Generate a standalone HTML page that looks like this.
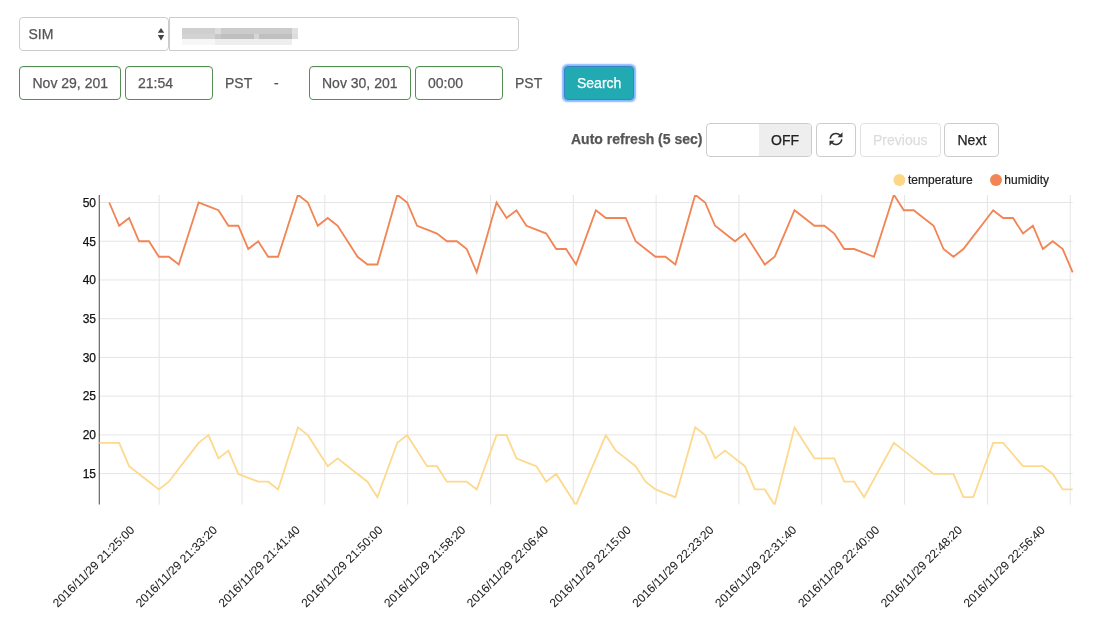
<!DOCTYPE html>
<html><head><meta charset="utf-8">
<style>
html,body{margin:0;padding:0;background:#fff;width:1103px;height:635px;overflow:hidden;position:relative}
.wrap{position:absolute;left:0;top:0;width:1103px;height:635px;will-change:transform}
body{font-family:"Liberation Sans",sans-serif;font-size:14px;color:#555}
.box{position:absolute;box-sizing:border-box;border:1px solid #ccc;border-radius:4px;background:#fff}
.t{position:absolute;white-space:nowrap;line-height:1;-webkit-text-stroke:0.25px currentColor}
.ok{border-color:#568d57;box-shadow:inset 0 1px 1px rgba(0,0,0,.075)}
svg text{font-family:"Liberation Sans",sans-serif}
.yl{font-size:12px;fill:#111;stroke:#111;stroke-width:0.25px}
.xl{font-size:12px;fill:#222;stroke:#222;stroke-width:0.05px}
.lg{font-size:12px;fill:#222;stroke:#222;stroke-width:0.2px}
</style></head><body><div class="wrap">
<div class="box" style="left:19px;top:17px;width:150px;height:34px;border-radius:4px"></div>
<div class="t" style="left:28.5px;top:27px">SIM</div>
<svg width="8" height="13" style="position:absolute;left:157px;top:28px" viewBox="0 0 8 13" overflow="visible"><path d="M4 -0.1 L7.2 4.8 L0.8 4.8 Z M0.8 6.9 L7.2 6.9 L4 12.5 Z" fill="#444"/></svg>
<div class="box" style="left:169px;top:17px;width:350px;height:34px;border-radius:0 4px 4px 0"></div>
<div style="position:absolute;left:182px;top:28px;width:116px;height:17px;filter:blur(0.6px)">
 <div style="position:absolute;left:0;top:0;width:33px;height:5.6px;background:#cfcfcf"></div>
 <div style="position:absolute;left:33px;top:0;width:6px;height:5.6px;background:#dcdcdc"></div>
 <div style="position:absolute;left:39px;top:0;width:71px;height:5.6px;background:#cbcbcb"></div>
 <div style="position:absolute;left:110px;top:0;width:6px;height:5.6px;background:#e0e0e0"></div>
 <div style="position:absolute;left:0;top:5.6px;width:33px;height:5.5px;background:#d3d3d3"></div>
 <div style="position:absolute;left:33px;top:5.6px;width:6px;height:5.5px;background:#c6c6c6"></div>
 <div style="position:absolute;left:39px;top:5.6px;width:33px;height:5.5px;background:#bfbfbf"></div>
 <div style="position:absolute;left:72px;top:5.6px;width:5px;height:5.5px;background:#d6d6d6"></div>
 <div style="position:absolute;left:77px;top:5.6px;width:33px;height:5.5px;background:#c0c0c0"></div>
 <div style="position:absolute;left:110px;top:5.6px;width:6px;height:5.5px;background:#dddddd"></div>
 <div style="position:absolute;left:0;top:11.1px;width:33px;height:5.5px;background:#f7f7f7"></div>
 <div style="position:absolute;left:33px;top:11.1px;width:77px;height:5.5px;background:#eeeeee"></div>
</div>

<div class="box ok" style="left:19px;top:66px;width:102px;height:34px"></div>
<div class="t" style="left:32.5px;top:76px">Nov 29, 201</div>
<div class="box ok" style="left:125px;top:66px;width:88px;height:34px"></div>
<div class="t" style="left:138px;top:76px">21:54</div>
<div class="t" style="left:225px;top:76px">PST</div>
<div class="t" style="left:274px;top:76px">-</div>
<div class="box ok" style="left:309px;top:66px;width:102px;height:34px"></div>
<div class="t" style="left:322px;top:76px">Nov 30, 201</div>
<div class="box ok" style="left:415px;top:66px;width:88px;height:34px"></div>
<div class="t" style="left:428px;top:76px">00:00</div>
<div class="t" style="left:515px;top:76px">PST</div>
<div class="box" style="left:564px;top:66px;width:70px;height:34px;background:#22aab2;border-color:#3a82c6;box-shadow:0 0 1.5px 1.5px rgba(110,170,255,.85)"></div>
<div class="t" style="left:577px;top:76px;color:#fff">Search</div>

<div class="t" style="left:571px;top:132px;font-weight:bold">Auto refresh (5 sec)</div>
<div class="box" style="left:706px;top:123px;width:106px;height:34px;overflow:hidden"><div style="position:absolute;left:52px;top:0;right:0;bottom:0;background:#eee"></div></div>
<div class="t" style="left:771px;top:133px;color:#222">OFF</div>
<div class="box" style="left:816px;top:123px;width:40px;height:34px"></div>
<svg width="14" height="14" viewBox="0 0 14 14" style="position:absolute;left:829px;top:132px"><g fill="none" stroke="#333" stroke-width="1.55"><path d="M1.3 6.7 A5.7 5.7 0 0 1 11.2 3.4"/><path d="M12.7 7.3 A5.7 5.7 0 0 1 2.8 10.6"/></g><path fill="#333" d="M13.5 0.3 L13.5 5.3 L8.5 5.3 Z M0.5 13.7 L0.5 8.7 L5.5 8.7 Z"/></svg>
<div class="box" style="left:860px;top:123px;width:81px;height:34px;border-color:#e2e2e2"></div>
<div class="t" style="left:873px;top:133px;color:#ddd">Previous</div>
<div class="box" style="left:944px;top:123px;width:55px;height:34px"></div>
<div class="t" style="left:957.5px;top:133px;color:#222">Next</div>

<svg width="1103" height="635" style="position:absolute;left:0;top:0" viewBox="0 0 1103 635">
<line x1="100" y1="202.50" x2="1072.6" y2="202.50" stroke="#e5e5e5" stroke-width="1"/>
<line x1="100" y1="241.23" x2="1072.6" y2="241.23" stroke="#e5e5e5" stroke-width="1"/>
<line x1="100" y1="279.96" x2="1072.6" y2="279.96" stroke="#e5e5e5" stroke-width="1"/>
<line x1="100" y1="318.69" x2="1072.6" y2="318.69" stroke="#e5e5e5" stroke-width="1"/>
<line x1="100" y1="357.42" x2="1072.6" y2="357.42" stroke="#e5e5e5" stroke-width="1"/>
<line x1="100" y1="396.15" x2="1072.6" y2="396.15" stroke="#e5e5e5" stroke-width="1"/>
<line x1="100" y1="434.88" x2="1072.6" y2="434.88" stroke="#e5e5e5" stroke-width="1"/>
<line x1="100" y1="473.61" x2="1072.6" y2="473.61" stroke="#e5e5e5" stroke-width="1"/>
<line x1="159.20" y1="195" x2="159.20" y2="504.6" stroke="#e5e5e5" stroke-width="1"/>
<line x1="242.02" y1="195" x2="242.02" y2="504.6" stroke="#e5e5e5" stroke-width="1"/>
<line x1="324.84" y1="195" x2="324.84" y2="504.6" stroke="#e5e5e5" stroke-width="1"/>
<line x1="407.66" y1="195" x2="407.66" y2="504.6" stroke="#e5e5e5" stroke-width="1"/>
<line x1="490.48" y1="195" x2="490.48" y2="504.6" stroke="#e5e5e5" stroke-width="1"/>
<line x1="573.30" y1="195" x2="573.30" y2="504.6" stroke="#e5e5e5" stroke-width="1"/>
<line x1="656.12" y1="195" x2="656.12" y2="504.6" stroke="#e5e5e5" stroke-width="1"/>
<line x1="738.94" y1="195" x2="738.94" y2="504.6" stroke="#e5e5e5" stroke-width="1"/>
<line x1="821.76" y1="195" x2="821.76" y2="504.6" stroke="#e5e5e5" stroke-width="1"/>
<line x1="904.58" y1="195" x2="904.58" y2="504.6" stroke="#e5e5e5" stroke-width="1"/>
<line x1="987.40" y1="195" x2="987.40" y2="504.6" stroke="#e5e5e5" stroke-width="1"/>
<line x1="1070.22" y1="195" x2="1070.22" y2="504.6" stroke="#e5e5e5" stroke-width="1"/>
<line x1="99.3" y1="195" x2="99.3" y2="504.6" stroke="#666" stroke-width="1.2"/>
<text x="96" y="206.80" text-anchor="end" class="yl">50</text>
<text x="96" y="245.53" text-anchor="end" class="yl">45</text>
<text x="96" y="284.26" text-anchor="end" class="yl">40</text>
<text x="96" y="322.99" text-anchor="end" class="yl">35</text>
<text x="96" y="361.72" text-anchor="end" class="yl">30</text>
<text x="96" y="400.45" text-anchor="end" class="yl">25</text>
<text x="96" y="439.18" text-anchor="end" class="yl">20</text>
<text x="96" y="477.91" text-anchor="end" class="yl">15</text>
<text transform="translate(135.10,530.70) rotate(-45)" text-anchor="end" class="xl">2016/11/29 21:25:00</text>
<text transform="translate(217.88,530.70) rotate(-45)" text-anchor="end" class="xl">2016/11/29 21:33:20</text>
<text transform="translate(300.66,530.70) rotate(-45)" text-anchor="end" class="xl">2016/11/29 21:41:40</text>
<text transform="translate(383.44,530.70) rotate(-45)" text-anchor="end" class="xl">2016/11/29 21:50:00</text>
<text transform="translate(466.22,530.70) rotate(-45)" text-anchor="end" class="xl">2016/11/29 21:58:20</text>
<text transform="translate(549.00,530.70) rotate(-45)" text-anchor="end" class="xl">2016/11/29 22:06:40</text>
<text transform="translate(631.78,530.70) rotate(-45)" text-anchor="end" class="xl">2016/11/29 22:15:00</text>
<text transform="translate(714.56,530.70) rotate(-45)" text-anchor="end" class="xl">2016/11/29 22:23:20</text>
<text transform="translate(797.34,530.70) rotate(-45)" text-anchor="end" class="xl">2016/11/29 22:31:40</text>
<text transform="translate(880.12,530.70) rotate(-45)" text-anchor="end" class="xl">2016/11/29 22:40:00</text>
<text transform="translate(962.90,530.70) rotate(-45)" text-anchor="end" class="xl">2016/11/29 22:48:20</text>
<text transform="translate(1045.68,530.70) rotate(-45)" text-anchor="end" class="xl">2016/11/29 22:56:40</text>
<defs><clipPath id="ca"><rect x="90" y="195" width="990" height="309.7"/></clipPath></defs><g clip-path="url(#ca)">
<path d="M99.30,442.90 L109.23,442.90 L119.16,442.90 L129.10,466.17 L139.03,473.93 L148.96,481.68 L158.89,489.44 L168.82,481.68 L178.76,468.73 L188.69,455.86 L198.62,442.90 L208.55,435.15 L218.48,458.41 L228.42,450.66 L238.35,473.93 L248.28,477.80 L258.21,481.68 L268.14,481.68 L278.08,489.44 L288.01,458.41 L297.94,427.39 L307.87,435.15 L317.80,450.66 L327.74,466.17 L337.67,458.41 L347.60,466.17 L357.53,473.93 L367.46,481.68 L377.40,497.19 L387.33,470.05 L397.26,442.90 L407.19,435.15 L417.12,450.66 L427.06,466.17 L436.99,466.17 L446.92,481.68 L456.85,481.68 L466.78,481.68 L476.72,489.44 L486.65,462.29 L496.58,435.15 L506.51,435.15 L516.44,458.41 L526.38,462.29 L536.31,466.17 L546.24,481.68 L556.17,473.93 L566.10,489.44 L576.04,504.94 L585.97,481.68 L595.90,458.41 L605.83,435.15 L615.76,450.66 L625.70,458.41 L635.63,466.17 L645.56,481.68 L655.49,489.44 L665.42,493.31 L675.36,497.19 L685.29,462.29 L695.22,427.39 L705.15,435.15 L715.08,458.41 L725.02,450.66 L734.95,458.41 L744.88,466.17 L754.81,489.44 L764.74,489.44 L774.68,504.94 L784.61,466.17 L794.54,427.39 L804.47,442.90 L814.40,458.41 L824.34,458.41 L834.27,458.41 L844.20,481.68 L854.13,481.68 L864.06,497.19 L874.00,479.12 L883.93,460.97 L893.86,442.90 L903.79,450.66 L913.72,458.41 L923.66,466.17 L933.59,473.93 L943.52,473.93 L953.45,473.93 L963.38,497.19 L973.32,497.19 L983.25,470.05 L993.18,442.90 L1003.11,442.90 L1013.04,454.54 L1022.98,466.17 L1032.91,466.17 L1042.84,466.17 L1052.77,473.93 L1062.70,489.44 L1072.64,489.44" fill="none" stroke="#fdd98e" stroke-width="1.8" stroke-linejoin="miter"/>
<path d="M109.23,202.50 L119.16,225.76 L129.10,218.01 L139.03,241.28 L148.96,241.28 L158.89,256.78 L168.82,256.78 L178.76,264.54 L188.69,233.52 L198.62,202.50 L208.55,206.38 L218.48,210.25 L228.42,225.76 L238.35,225.76 L248.28,249.03 L258.21,241.28 L268.14,256.78 L278.08,256.78 L288.01,225.76 L297.94,194.75 L307.87,202.50 L317.80,225.76 L327.74,218.01 L337.67,225.76 L347.60,241.28 L357.53,256.78 L367.46,264.54 L377.40,264.54 L387.33,229.64 L397.26,194.75 L407.19,202.50 L417.12,225.76 L427.06,229.64 L436.99,233.52 L446.92,241.28 L456.85,241.28 L466.78,249.03 L476.72,272.30 L486.65,237.40 L496.58,202.50 L506.51,218.01 L516.44,210.25 L526.38,225.76 L536.31,229.64 L546.24,233.52 L556.17,249.03 L566.10,249.03 L576.04,264.54 L585.97,237.40 L595.90,210.25 L605.83,218.01 L615.76,218.01 L625.70,218.01 L635.63,241.28 L645.56,249.03 L655.49,256.78 L665.42,256.78 L675.36,264.54 L685.29,229.64 L695.22,194.75 L705.15,202.50 L715.08,225.76 L725.02,233.52 L734.95,241.28 L744.88,233.52 L754.81,249.03 L764.74,264.54 L774.68,256.78 L784.61,233.52 L794.54,210.25 L804.47,218.01 L814.40,225.76 L824.34,225.76 L834.27,233.52 L844.20,249.03 L854.13,249.03 L864.06,252.91 L874.00,256.78 L883.93,225.76 L893.86,194.75 L903.79,210.25 L913.72,210.25 L923.66,218.01 L933.59,225.76 L943.52,249.03 L953.45,256.78 L963.38,249.03 L973.32,236.08 L983.25,223.21 L993.18,210.25 L1003.11,218.01 L1013.04,218.01 L1022.98,233.52 L1032.91,225.76 L1042.84,249.03 L1052.77,241.28 L1062.70,249.03 L1072.64,272.30" fill="none" stroke="#f28555" stroke-width="1.85" stroke-linejoin="miter"/></g>
<circle cx="899.4" cy="180" r="6" fill="#fdd686"/>
<text x="908" y="184.3" class="lg">temperature</text>
<circle cx="996" cy="180" r="6" fill="#f28555"/>
<text x="1004.3" y="184.3" class="lg">humidity</text>
</svg>
</div></body></html>
